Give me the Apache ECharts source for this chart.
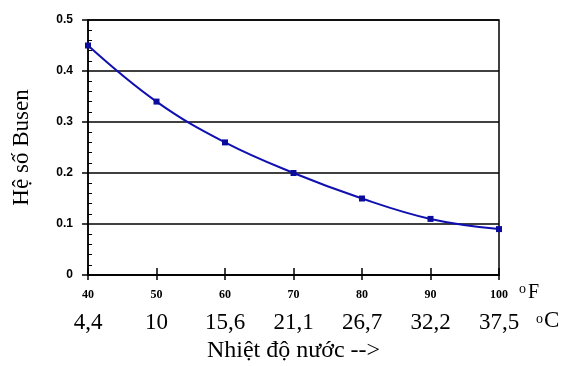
<!DOCTYPE html>
<html><head><meta charset="utf-8">
<script src="https://cdn.jsdelivr.net/npm/echarts@6/dist/echarts.min.js"></script>
<style>html,body{margin:0;padding:0;background:#fff}#c{width:579px;height:366px}</style>
</head><body><div id="c"></div>
<script>
const tempF = [40, 50, 60, 70, 80, 90, 100];
const tempC = ['4,4', '10', '15,6', '21,1', '26,7', '32,2', '37,5'];
const busen = [0.45, 0.34, 0.26, 0.20, 0.15, 0.11, 0.09];
const yTicks = ['0', '0.1', '0.2', '0.3', '0.4', '0.5'];

const chart = echarts.init(document.getElementById('c'));
const serif = 'Liberation Serif';
const sans = 'Liberation Sans';
chart.setOption({
  animation: false,
  grid: { left: 88, right: 80, top: 20, bottom: 91, show: true, borderColor: '#000', borderWidth: 1.5,
    outerBoundsMode: 'none', containLabel: false },
  xAxis: [{
    type: 'value', min: 40, max: 100, interval: 10,
    axisLine: { lineStyle: { color: '#000', width: 1.5 } },
    axisTick: { length: 5, lineStyle: { color: '#000', width: 1.5 } },
    splitLine: { show: false },
    axisLabel: { margin: 14, color: '#000', fontFamily: serif, fontWeight: 'bold', fontSize: 12 },
    name: '{o|o}{f|F}', nameLocation: 'end', nameGap: 20,
    nameTextStyle: { padding: [36, 0, 0, 0], rich: {
      o: { fontFamily: serif, fontSize: 14, color: '#000', padding: [0, 2, 7, 0] },
      f: { fontFamily: serif, fontSize: 20, color: '#000' } } }
  }, {
    type: 'value', min: 40, max: 100, interval: 10, position: 'bottom',
    axisLine: { show: false },
    axisTick: { inside: true, length: 7, lineStyle: { color: '#000', width: 1.5 } },
    splitLine: { show: false },
    axisLabel: { margin: 36, color: '#000', fontFamily: serif, fontSize: 23,
      formatter: v => tempC[tempF.indexOf(v)] },
    name: 'Nhiệt độ nước -->', nameLocation: 'middle', nameGap: 59,
    nameTextStyle: { color: '#000', fontFamily: serif, fontSize: 24 }
  }],
  yAxis: [{
    type: 'value', min: 0, max: 0.5, interval: 0.1,
    axisLine: { show: true, lineStyle: { color: '#000', width: 1.5 } },
    axisTick: { show: true, length: 6, lineStyle: { color: '#000', width: 1.5 } },
    splitLine: { show: true, lineStyle: { color: '#000', width: 1.5 } },
    axisLabel: { margin: 15, color: '#000', fontFamily: sans, fontWeight: 'bold', fontSize: 12,
      formatter: v => yTicks[Math.round(v * 10)] },
    name: 'Hệ số Busen', nameLocation: 'middle', nameGap: 55,
    nameTextStyle: { color: '#000', fontFamily: serif, fontSize: 23 }
  }, {
    type: 'value', min: 0, max: 0.5, interval: 0.1, position: 'left',
    axisLine: { show: false },
    axisTick: { show: false, inside: true },
    minorTick: { show: true, splitNumber: 5, length: 4, lineStyle: { color: '#000', width: 1 } },
    splitLine: { show: false },
    axisLabel: { show: false }
  }],
  series: [{
    type: 'line', xAxisIndex: 0, yAxisIndex: 0,
    data: tempF.map((x, i) => [x, busen[i]]),
    smooth: 0.4,
    symbol: 'rect', symbolSize: 6,
    lineStyle: { color: '#1010b0', width: 2 },
    itemStyle: { color: '#0c0c9c' }
  }],
  graphic: [{
    type: 'text', left: 536, top: 309,
    style: { text: '{o|o}{c|C}', rich: {
      o: { fontFamily: serif, fontSize: 14, fill: '#000', padding: [0, 1, 3, 0] },
      c: { fontFamily: serif, fontSize: 23, fill: '#000' } } }
  }]
});
</script></body></html>
